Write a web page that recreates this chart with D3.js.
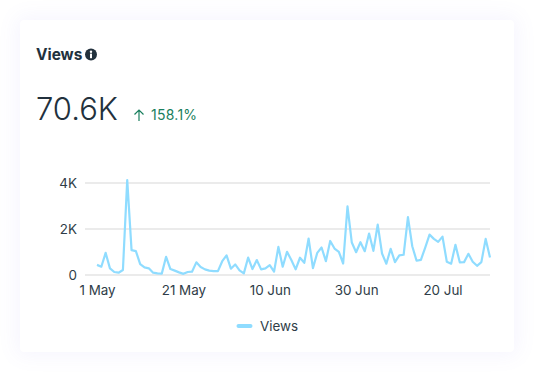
<!DOCTYPE html>
<html><head><meta charset="utf-8">
<style>
html,body{margin:0;padding:0;background:#fff;width:554px;height:392px;overflow:hidden}
#card{position:absolute;left:20px;top:20px;width:494px;height:332px;background:#fff;border-radius:4px;box-shadow:0 0 20px 4px rgba(130,120,235,0.07)}
svg{position:absolute;left:0;top:0}
text{font-family:Inter,sans-serif}
</style>
<script src="https://cdnjs.cloudflare.com/ajax/libs/d3/7.8.5/d3.min.js"></script>
</head><body>
<div id="card"></div>
<svg id="c" width="554" height="392"></svg>
<script>
const startDate = "2021-05-01";
const views = [440,360,960,290,130,100,215,4130,1080,1040,475,330,290,100,70,60,790,260,190,115,50,130,145,550,345,245,190,170,170,600,850,275,460,200,70,760,260,650,245,290,430,145,1220,360,1010,650,245,750,530,1585,300,960,1195,600,1480,1150,1010,500,2980,1410,990,1425,1035,1800,1050,2190,935,490,1140,560,850,880,2520,1250,620,660,1195,1755,1570,1440,1670,575,490,1310,550,560,920,575,400,560,1570,760];
const yTicks = [0,2000,4000];
const xTickOffsets = [0,20,40,60,80];
const xTickLabels = ["1 May","21 May","10 Jun","30 Jun","20 Jul"];
const seriesName = "Views", title = "Views", total = "70.6K", change = "158.1%";

const svg = d3.select("#c");
const day = 864e5, t0 = Date.parse(startDate+"T00:00:00Z");
const dates = views.map((_,i)=>new Date(t0+i*day));
const x = d3.scaleUtc().domain([dates[0],dates[dates.length-1]]).range([97,490]);
const y = d3.scaleLinear().domain([0,4000]).range([275,183]);

// grid
svg.append("g").selectAll("line").data(yTicks).join("line")
  .attr("x1",85).attr("x2",490).attr("y1",d=>y(d)).attr("y2",d=>y(d))
  .attr("stroke","#ebebeb").attr("stroke-width",2);

// y axis
const yAxis = d3.axisLeft(y).tickValues(yTicks).tickSize(0).tickPadding(0).tickFormat(d=>d===0?"0":(d/1000)+"K");
const gy = svg.append("g").attr("transform","translate(77,0)").call(yAxis);
gy.select(".domain").remove();
gy.selectAll("text").attr("font-size",13.4).attr("fill","#2f3d48").attr("font-family","Inter,sans-serif").attr("dy","0.36em");

// x axis
const xVals = xTickOffsets.map(o=>dates[o]);
const xAxis = d3.axisBottom(x).tickValues(xVals).tickSize(0).tickPadding(0).tickFormat((d,i)=>xTickLabels[i]);
const gx = svg.append("g").attr("transform","translate(0,295)").call(xAxis);
gx.select(".domain").remove();
gx.selectAll("text").attr("font-size",13.4).attr("fill","#2f3d48").attr("font-family","Inter,sans-serif").attr("dy","0");

// line
svg.append("path").datum(views)
  .attr("fill","none").attr("stroke","#8fdcff").attr("stroke-width",2.2).attr("stroke-linejoin","round")
  .attr("d",d3.line().x((d,i)=>x(dates[i])).y(d=>y(d)));

// header
svg.append("text").attr("x",36).attr("y",60).attr("font-size",15.4).attr("font-weight",700).attr("fill","#22313d").text(title);
const info = svg.append("g").attr("transform","translate(91,54.5)");
info.append("circle").attr("r",6).attr("fill","#22313d");
info.append("circle").attr("cy",-2.8).attr("r",1.2).attr("fill","#fff");
info.append("rect").attr("x",-1).attr("y",-0.9).attr("width",2).attr("height",4.6).attr("fill","#fff");

svg.append("text").attr("x",36).attr("y",120).attr("font-size",31).attr("font-weight",300).attr("fill","#22313d").text(total);
const arrow = svg.append("g").attr("stroke","#1a7f5e").attr("stroke-width",1.2).attr("fill","none");
arrow.append("path").attr("d","M139 121V110M134.5 114.5L139 110L143.5 114.5");
svg.append("text").attr("x",151).attr("y",120).attr("font-size",14).attr("letter-spacing",0.25).attr("fill","#1a7f5e").text(change);

// legend
svg.append("line").attr("x1",238.5).attr("x2",250.5).attr("y1",326).attr("y2",326)
  .attr("stroke","#8fdcff").attr("stroke-width",4).attr("stroke-linecap","round");
svg.append("text").attr("x",260).attr("y",331).attr("font-size",13.4).attr("fill","#2f3d48").text(seriesName);
</script>
</body></html>
